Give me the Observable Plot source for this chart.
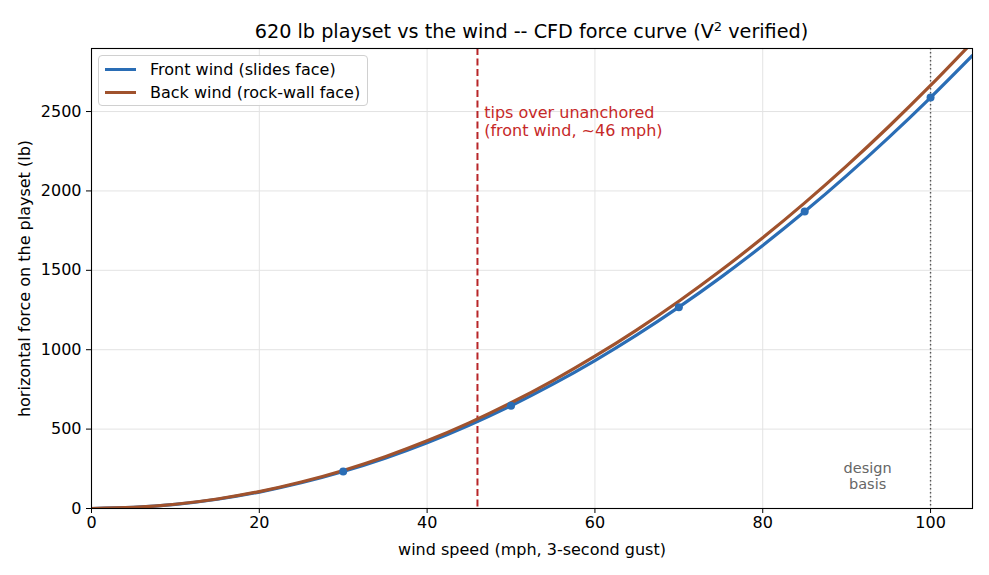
<!DOCTYPE html>
<html>
<head>
<meta charset="utf-8">
<script src="https://cdn.jsdelivr.net/npm/d3@7"></script>
<script src="https://cdn.jsdelivr.net/npm/@observablehq/plot@0.6"></script>
<style>
  html, body { margin: 0; padding: 0; background: white; }
  #wrap { position: relative; width: 989px; height: 575px; font-family: "DejaVu Sans", sans-serif; }
  #title { position: absolute; left: 91px; width: 881px; top: 20px; text-align: center; font-size: 19.2px; color: #000; }
  #title sup { font-size: 13px; vertical-align: 7px; line-height: 0; }
  #legend { position: absolute; left: 98px; top: 55px; width: 270px; height: 51px; border: 1px solid #d0d0d0; border-radius: 4px; background: rgba(255,255,255,0.85); box-sizing: border-box; font-size: 16px; }
  .row { position: absolute; left: 6px; height: 18px; display: flex; align-items: center; }
  .sw { width: 31px; height: 3px; margin-right: 14px; }
</style>
</head>
<body>
<div id="wrap">
  <div id="chart"></div>
  <div id="title">620 lb playset vs the wind -- CFD force curve (V<sup>2</sup> verified)</div>
  <div id="legend">
    <div class="row" style="top:4px"><div class="sw" style="background:#2a6db5"></div>Front wind (slides face)</div>
    <div class="row" style="top:27px"><div class="sw" style="background:#a0522d"></div>Back wind (rock-wall face)</div>
  </div>
</div>
<script>
const speeds = [0, 5, 10, 15, 20, 25, 30, 35, 40, 45, 50, 55, 60, 65, 70, 75, 80, 85, 90, 95, 100, 105];
const frontForce = [0, 6.5, 25.9, 58.2, 103.5, 161.8, 232.9, 317, 414.1, 524.1, 647, 782.9, 931.7, 1093.4, 1268.1, 1455.8, 1656.3, 1869.8, 2096.3, 2335.7, 2588, 2853];
const backForce = [0, 6.7, 26.6, 59.9, 106.6, 166.5, 239.8, 326.3, 426.2, 539.5, 666, 805.9, 959, 1125.5, 1305.4, 1498.5, 1705, 1924.8, 2157.8, 2404.2, 2664, 2937];
const cfdSpeeds = [30, 50, 70, 85, 100];
const cfdForce = [233, 647, 1268, 1870, 2588];
const xTicks = [0, 20, 40, 60, 80, 100];
const yTicks = [0, 500, 1000, 1500, 2000, 2500];
const tipSpeed = 46;
const designSpeed = 100;

const front = speeds.map((s, i) => ({speed: s, force: frontForce[i]}));
const back = speeds.map((s, i) => ({speed: s, force: backForce[i]}));
const cfd = cfdSpeeds.map((s, i) => ({speed: s, force: cfdForce[i]}));

const chart = Plot.plot({
  width: 989,
  height: 575,
  marginLeft: 91,
  marginRight: 17,
  marginTop: 48,
  marginBottom: 67,
  style: {fontFamily: "DejaVu Sans, sans-serif", fontSize: "16px", color: "#000", background: "white", overflow: "visible"},
  x: {domain: [0, 105]},
  y: {domain: [0, 2897]},
  marks: [
    Plot.gridX(xTicks, {stroke: "#e3e3e3", strokeOpacity: 1}),
    Plot.gridY(yTicks, {stroke: "#e3e3e3", strokeOpacity: 1}),
    Plot.ruleX([tipSpeed], {stroke: "#b82528", strokeWidth: 2, strokeDasharray: "7,3.5"}),
    Plot.ruleX([designSpeed], {stroke: "#555", strokeWidth: 1.4, strokeDasharray: "1.5,2.5"}),
    Plot.line(front, {x: "speed", y: "force", stroke: "#2a6db5", strokeWidth: 3.2, curve: "catmull-rom", clip: true}),
    Plot.line(back, {x: "speed", y: "force", stroke: "#a0522d", strokeWidth: 3.2, curve: "catmull-rom", clip: true}),
    Plot.dot(cfd, {x: "speed", y: "force", r: 4, fill: "#2a6db5", stroke: "none"}),
    Plot.text(["tips over unanchored\n(front wind, ~46 mph)"], {x: 46.8, y: 2536, text: d => d, textAnchor: "start", lineAnchor: "top", fill: "#c62828", fontSize: 16, lineHeight: 1.1}),
    Plot.text(["design\nbasis"], {x: 92.5, y: 292, text: d => d, textAnchor: "middle", lineAnchor: "top", fill: "#666", fontSize: 14.5, lineHeight: 1.1}),
    Plot.frame({stroke: "#000", strokeWidth: 1.1}),
    Plot.axisX(xTicks, {tickSize: 5, tickPadding: 3, label: "wind speed (mph, 3-second gust)", labelAnchor: "center", labelArrow: "none", labelOffset: 46}),
    Plot.axisY(yTicks, {tickSize: 5, tickPadding: 5, tickFormat: d => String(d), label: "horizontal force on the playset (lb)", labelAnchor: "center", labelArrow: "none", labelOffset: 73})
  ]
});
document.getElementById("chart").appendChild(chart);
</script>
</body>
</html>
